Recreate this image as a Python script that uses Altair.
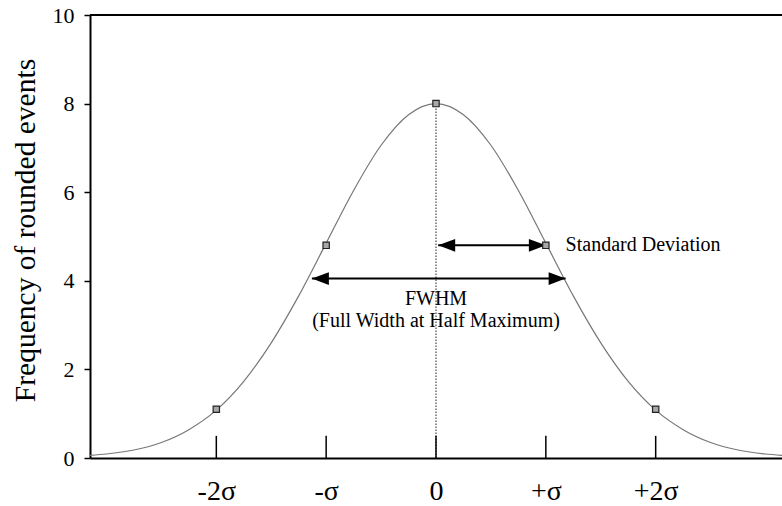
import altair as alt
import pandas as pd

# Gaussian curve (x in units of sigma)
curve_x = [-3.15, -3.0, -2.75, -2.5, -2.25, -2.0, -1.75, -1.5, -1.25, -1.0, -0.75, -0.5, -0.25, 0.0,
           0.25, 0.5, 0.75, 1.0, 1.25, 1.5, 1.75, 2.0, 2.25, 2.5, 2.75, 3.0, 3.15]
curve_y = [0.06, 0.09, 0.18, 0.35, 0.64, 1.08, 1.73, 2.60, 3.66, 4.85, 6.04, 7.06, 7.75, 8.0,
           7.75, 7.06, 6.04, 4.85, 3.66, 2.60, 1.73, 1.08, 0.64, 0.35, 0.18, 0.09, 0.06]

marker_x = [-2, -1, 0, 1, 2]
marker_y = [1.1, 4.8, 8.0, 4.8, 1.1]

tick_values = [-2, -1, 0, 1, 2]
tick_labels = ["-2σ", "-σ", "0", "+σ", "+2σ"]

y_ticks = [0, 2, 4, 6, 8, 10]

# annotations: arrows (x start, x end, y) and texts
arrow_names = ["Standard Deviation", "FWHM"]
arrow_x1 = [0.02, -1.13]
arrow_x2 = [1.0, 1.18]
arrow_y = [4.8, 4.05]

note_text = ["Standard Deviation", "FWHM", "(Full Width at Half Maximum)"]
note_x = [1.18, 0.0, 0.0]
note_y = [4.8, 3.6, 3.1]
note_align = ["left", "center", "center"]

FONT = "Liberation Serif"
XDOM = [-3.15, 3.15]
YDOM = [0, 10]

curve_df = pd.DataFrame({"x": curve_x, "y": curve_y})
marker_df = pd.DataFrame({"x": marker_x, "y": marker_y})
ticks_df = pd.DataFrame({"x": tick_values})
arrows_df = pd.DataFrame({"name": arrow_names, "x1": arrow_x1, "x2": arrow_x2, "y": arrow_y})
notes_df = pd.DataFrame({"text": note_text, "x": note_x, "y": note_y, "align": note_align})

label_expr = " : ".join(
    f"datum.value == {v} ? '{l}'" for v, l in zip(tick_values, tick_labels)
) + " : ''"

xscale = alt.Scale(domain=XDOM, nice=False, zero=False)
yscale = alt.Scale(domain=YDOM, nice=False)

x_axis = alt.Axis(values=tick_values, labelExpr=label_expr, ticks=False, grid=False,
                  title=None, labelFontSize=28, labelFont=FONT, labelPadding=19,
                  labelColor="black", domainColor="black", domainWidth=2)
y_axis = alt.Axis(values=y_ticks, grid=False, tickSize=6, tickColor="black", tickWidth=1.5,
                  labelFontSize=22, labelFont=FONT, labelPadding=10, labelColor="black",
                  domainColor="black", domainWidth=2,
                  title="Frequency of rounded events", titleFont=FONT, titleFontSize=29.5,
                  titleFontWeight="normal", titleColor="black", titleX=-56, titleY=215,
                  titleBaseline="alphabetic")

curve = alt.Chart(curve_df).mark_line(color="#777777", strokeWidth=1.2, interpolate="monotone").encode(
    x=alt.X("x:Q", scale=xscale, axis=x_axis),
    y=alt.Y("y:Q", scale=yscale, axis=y_axis),
)

center_line = alt.Chart(pd.DataFrame({"x": [0.0], "y": [0.0], "y2": [8.0]})).mark_rule(
    color="#444444", strokeWidth=1.2, strokeDash=[1.5, 1.5]
).encode(x=alt.X("x:Q", scale=xscale), y=alt.Y("y:Q", scale=yscale), y2="y2:Q")

inner_ticks = alt.Chart(ticks_df).transform_calculate(y0="0", y1="0.5").mark_rule(
    color="black", strokeWidth=1.5
).encode(x=alt.X("x:Q", scale=xscale), y=alt.Y("y0:Q", scale=yscale), y2="y1:Q")

top_border = alt.Chart(pd.DataFrame({"y": [10]})).mark_rule(color="black", strokeWidth=2).encode(
    y=alt.Y("y:Q", scale=yscale), x=alt.value(0), x2=alt.value(692)
)

arrow_lines = alt.Chart(arrows_df).mark_rule(color="black", strokeWidth=2).encode(
    x=alt.X("x1:Q", scale=xscale), x2="x2:Q", y=alt.Y("y:Q", scale=yscale)
)
head_left = alt.Chart(arrows_df).mark_point(
    shape="M0,0L4,-1.5L4,1.5Z", size=72, filled=True, color="black", opacity=1
).encode(x=alt.X("x1:Q", scale=xscale), y=alt.Y("y:Q", scale=yscale))
head_right = alt.Chart(arrows_df).mark_point(
    shape="M0,0L-4,-1.5L-4,1.5Z", size=72, filled=True, color="black", opacity=1
).encode(x=alt.X("x2:Q", scale=xscale), y=alt.Y("y:Q", scale=yscale))

markers = alt.Chart(marker_df).mark_square(
    size=40, fill="#a8a8a8", stroke="#222222", strokeWidth=1.2, opacity=1
).encode(x=alt.X("x:Q", scale=xscale), y=alt.Y("y:Q", scale=yscale))

notes_left = alt.Chart(notes_df[notes_df["align"] == "left"]).mark_text(
    align="left", baseline="middle", font=FONT, fontSize=20, color="black"
).encode(x=alt.X("x:Q", scale=xscale), y=alt.Y("y:Q", scale=yscale), text="text:N")
notes_center = alt.Chart(notes_df[notes_df["align"] == "center"]).mark_text(
    align="center", baseline="middle", font=FONT, fontSize=20, color="black"
).encode(x=alt.X("x:Q", scale=xscale), y=alt.Y("y:Q", scale=yscale), text="text:N")

chart = alt.layer(
    curve, center_line, inner_ticks, top_border, arrow_lines, head_left, head_right,
    markers, notes_left, notes_center
).properties(
    width=692, height=443,
    padding={"left": 90, "top": 15, "right": 0, "bottom": 48},
    autosize=alt.AutoSizeParams(type="none"),
    background="white",
).configure_view(stroke=None)

chart.save("out.html", embed_options={"renderer": "svg", "actions": False})
